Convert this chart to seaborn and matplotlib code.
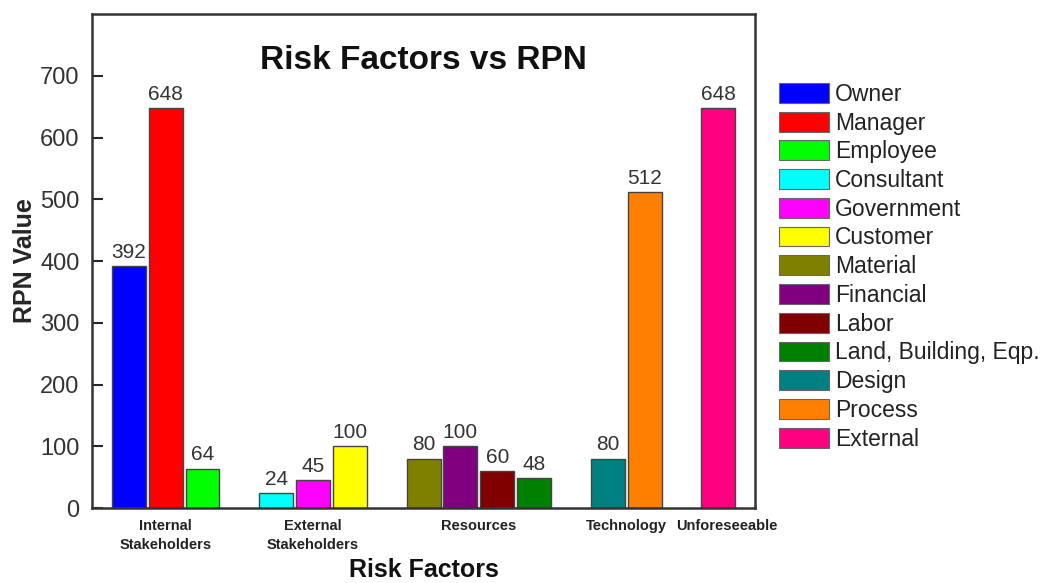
import matplotlib
matplotlib.use("Agg")
import matplotlib.pyplot as plt
import matplotlib.transforms as mtransforms
from matplotlib.patches import Patch
import seaborn as sns
import pandas as pd

# Risk categories and the factors belonging to each
groups = ["Internal\nStakeholders", "External\nStakeholders", "Resources",
          "Technology", "Unforeseeable"]
factors = ["Owner", "Manager", "Employee",
           "Consultant", "Government", "Customer",
           "Material", "Financial", "Labor", "Land, Building, Eqp.",
           "Design", "Process",
           "External"]
factor_group = [0, 0, 0,
                1, 1, 1,
                2, 2, 2, 2,
                3, 3,
                4]
rpn = [392, 648, 64,
       24, 45, 100,
       80, 100, 60, 48,
       80, 512,
       648]
colors = ["#0000FF", "#FF0000", "#00FF00",
          "#00FFFF", "#FF00FF", "#FFFF00",
          "#808000", "#800080", "#800000", "#008000",
          "#008080", "#FF8000",
          "#FF0080"]

# Slot positions: consecutive bars within a group, one empty slot between groups
pos = []
slot = 0
prev = factor_group[0]
for g in factor_group:
    if g != prev:
        slot += 1
        prev = g
    pos.append(slot)
    slot += 1

df = pd.DataFrame({"pos": pos, "factor": factors, "rpn": rpn,
                   "group": [groups[g] for g in factor_group]})

sns.set_style("ticks")
plt.rcParams["font.family"] = ["Liberation Sans", "DejaVu Sans"]

fig = plt.figure(figsize=(10.51, 5.83), dpi=100)
ax = fig.add_axes([0.0875, 0.1286, 0.631, 0.8474])

palette = dict(zip(factors, colors))
sns.barplot(data=df, x="pos", y="rpn", hue="factor", hue_order=factors,
            palette=palette, dodge=False, native_scale=True, width=0.92,
            saturation=1, edgecolor="#444444", linewidth=1.0, legend=False,
            ax=ax)

for cont in ax.containers:
    ax.bar_label(cont, fmt="{:.0f}", padding=3, fontsize=15, color="#333333")

ax.set_xlim(-1, 17)
ax.set_ylim(0, 800)
ax.set_yticks(range(0, 701, 100))
ax.tick_params(axis="y", direction="in", length=8, width=1.5,
               labelsize=17, labelcolor="#333333", pad=9)

# Category labels centred under each group of bars
centers = []
for gi in range(len(groups)):
    p = [pos[i] for i in range(len(pos)) if factor_group[i] == gi]
    centers.append((min(p) + max(p)) / 2)
ax.set_xticks(centers)
ax.set_xticklabels(groups, fontsize=10.5, fontweight="bold", color="#222222",
                   linespacing=1.45)
ax.tick_params(axis="x", length=0, pad=8)
last = ax.get_xticklabels()[-1]
last.set_transform(last.get_transform() +
                   mtransforms.ScaledTranslation(9 / 100, 0, fig.dpi_scale_trans))

for s in ax.spines.values():
    s.set_linewidth(1.8)
    s.set_color("#333333")

ax.set_xlabel("")
ax.set_ylabel("RPN Value", fontsize=18, fontweight="bold", labelpad=2)
fig.text(0.0875 + 0.631 / 2, 1 - 570 / 583, "Risk Factors", ha="center",
         va="center", fontsize=18, fontweight="bold", color="#111111")
ax.text(0.5, 0.905, "Risk Factors vs RPN", transform=ax.transAxes,
        ha="center", va="center", fontsize=24, fontweight="bold", color="#111111")

handles = [Patch(facecolor=c, edgecolor="#666666", linewidth=0.8) for c in colors]
fig.legend(handles, factors, loc="upper left", bbox_to_anchor=(0.741, 0.858),
           frameon=False, fontsize=16.5, handlelength=2.2, handleheight=0.95,
           labelspacing=0.25, handletextpad=0.26, labelcolor="#222222",
           borderaxespad=0, borderpad=0)

fig.savefig("out.png", dpi=100)
